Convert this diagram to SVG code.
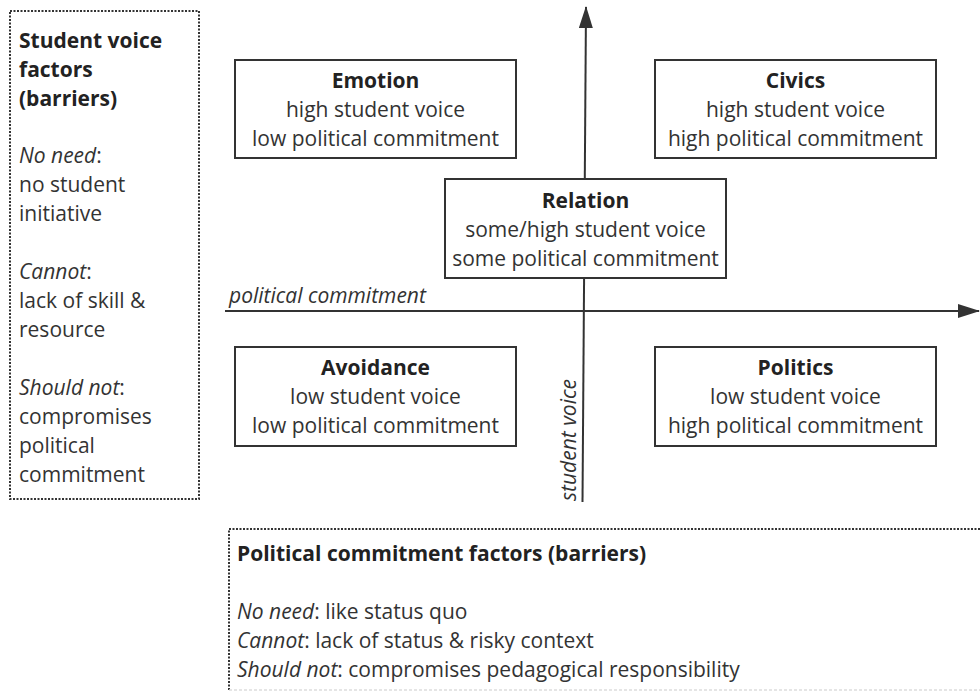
<svg xmlns="http://www.w3.org/2000/svg" width="980" height="691" viewBox="0 0 980 691">
<defs>
<marker id="arr" viewBox="0 0 22 14" refX="21" refY="7" markerWidth="22" markerHeight="14" markerUnits="userSpaceOnUse" orient="auto">
<path d="M0,0 L22,7 L0,14 Z" fill="#333"/>
</marker>
<style>
text{font-family:"Open Sans","Noto Sans","DejaVu Sans",sans-serif;fill:#333;font-size:21px;}
.t{font-weight:bold;fill:#222;}
.c{text-anchor:middle;}
.box{fill:#fff;stroke:#333;stroke-width:2;}
.dot{fill:none;stroke:#333;stroke-width:2;stroke-dasharray:2 1.5;}
.ax{stroke:#333;stroke-width:2;fill:none;}
.i{font-style:italic;}
.ax-l{font-style:italic;}
</style>
</defs>
<rect width="980" height="691" fill="#fff"/>

<g id="axes">
<line class="ax" x1="225" y1="311" x2="979" y2="311" marker-end="url(#arr)"/>
<line class="ax" x1="582.5" y1="502" x2="586" y2="7" marker-end="url(#arr)"/>
<text class="ax-l" x="229" y="303">political commitment</text>
<text class="ax-l" transform="translate(576,501) rotate(-90)">student voice</text>
</g>

<g id="student-voice-factors">
<rect class="dot" x="10" y="11" width="189" height="488"/>
<text class="t" x="19" y="48">Student voice</text>
<text class="t" x="19" y="77">factors</text>
<text class="t" x="19" y="106">(barriers)</text>
<text x="19" y="163"><tspan class="i">No need</tspan>:</text>
<text x="19" y="192">no student</text>
<text x="19" y="221">initiative</text>
<text x="19" y="279"><tspan class="i">Cannot</tspan>:</text>
<text x="19" y="308">lack of skill &amp;</text>
<text x="19" y="337">resource</text>
<text x="19" y="395"><tspan class="i">Should not</tspan>:</text>
<text x="19" y="424">compromises</text>
<text x="19" y="453">political</text>
<text x="19" y="482">commitment</text>
</g>

<g id="emotion">
<rect class="box" x="235" y="60" width="281" height="98"/>
<text class="t c" x="375.5" y="88">Emotion</text>
<text class="c" x="375.5" y="117">high student voice</text>
<text class="c" x="375.5" y="146">low political commitment</text>
</g>

<g id="civics">
<rect class="box" x="655" y="60" width="281" height="98"/>
<text class="t c" x="795.5" y="88">Civics</text>
<text class="c" x="795.5" y="117">high student voice</text>
<text class="c" x="795.5" y="146">high political commitment</text>
</g>

<g id="relation">
<rect class="box" x="445" y="179" width="281" height="99"/>
<text class="t c" x="585.5" y="208">Relation</text>
<text class="c" x="585.5" y="237">some/high student voice</text>
<text class="c" x="585.5" y="266">some political commitment</text>
</g>

<g id="avoidance">
<rect class="box" x="235" y="347" width="281" height="99"/>
<text class="t c" x="375.5" y="375">Avoidance</text>
<text class="c" x="375.5" y="404">low student voice</text>
<text class="c" x="375.5" y="433">low political commitment</text>
</g>

<g id="politics">
<rect class="box" x="655" y="347" width="281" height="99"/>
<text class="t c" x="795.5" y="375">Politics</text>
<text class="c" x="795.5" y="404">low student voice</text>
<text class="c" x="795.5" y="433">high political commitment</text>
</g>

<g id="political-commitment-factors">
<path class="dot" d="M229,690 L229,529 L1029,529"/>
<line x1="229" y1="690" x2="980" y2="690" stroke="#ddd" stroke-width="1.5" stroke-dasharray="3 2"/>
<text class="t" x="237" y="561">Political commitment factors (barriers)</text>
<text x="237" y="619"><tspan class="i">No need</tspan>: like status quo</text>
<text x="237" y="648"><tspan class="i">Cannot</tspan>: lack of status &amp; risky context</text>
<text x="237" y="677"><tspan class="i">Should not</tspan>: compromises pedagogical responsibility</text>
</g>
</svg>
